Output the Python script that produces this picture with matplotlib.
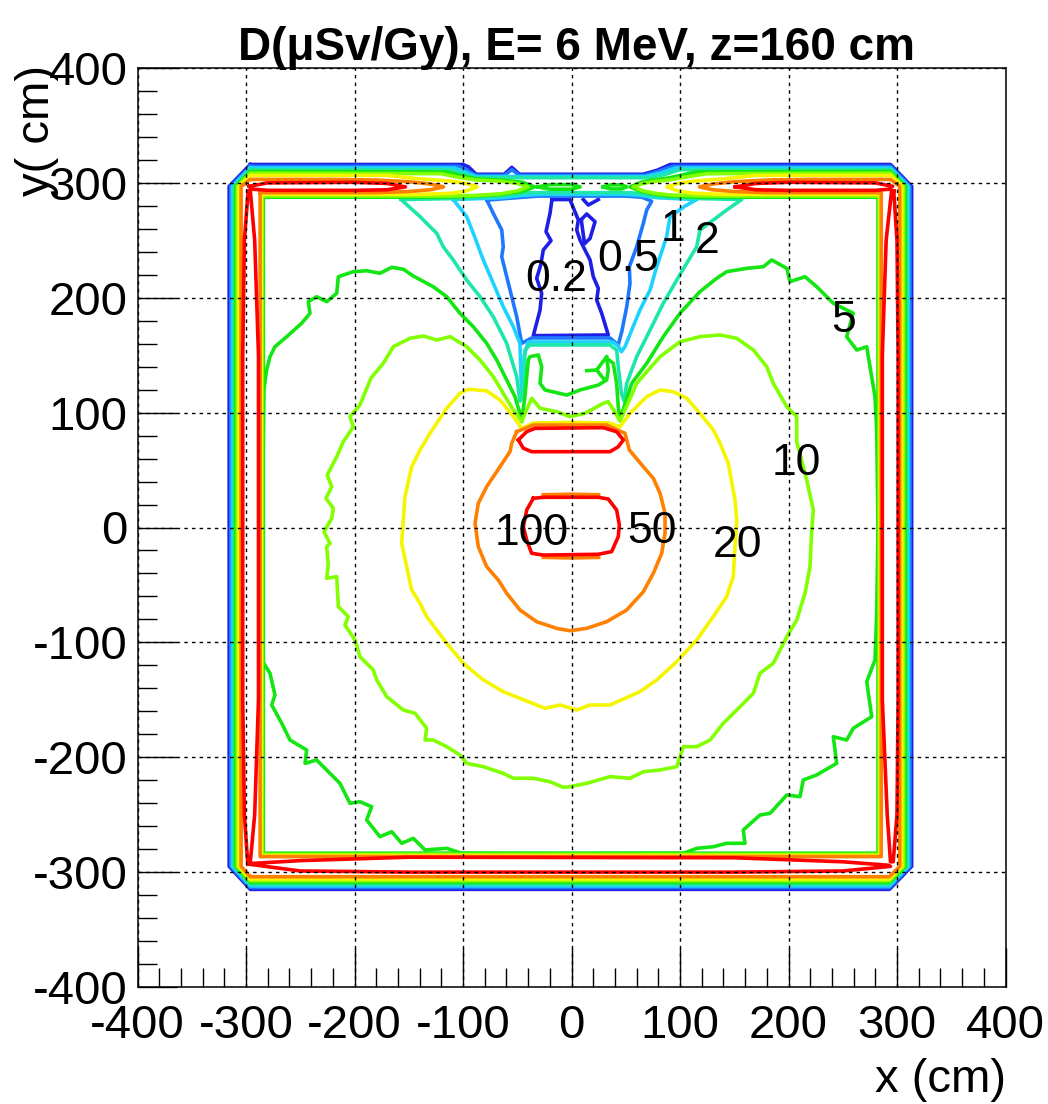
import matplotlib
matplotlib.use("Agg")
import matplotlib.pyplot as plt
from matplotlib.ticker import MultipleLocator

plt.rcParams['font.family'] = ['Liberation Sans', 'DejaVu Sans']
plt.rcParams['axes.unicode_minus'] = False

# contour levels (uSv/Gy) and the ROOT rainbow colours used for them
levels = [0.2, 0.5, 1, 2, 5, 10, 20, 50, 100]
colors = ['#1e1ee6', '#1e78ff', '#1ed2ff', '#1ee6aa', '#14e614', '#82ff00', '#f5f500', '#ff8000', '#ff0000']
label_text = ['0.2', '0.5', '1', '2', '5', '10', '20', '50', '100']
label_x = [-14.5, 52.4, 93.8, 124.6, 250.5, 207.6, 153, 73.9, -36.7]
label_y = [206, 223.3, 249.4, 239.2, 170.4, 45.6, -25.5, -13.9, -15.4]

# ---- contours inside the room (x, y in cm) ----
c02_loop = [(-18, 285.5), (-19.8, 273.5), (-23.5, 257.5), (-18.9, 249.7), (-26, 241.6), (-28.4, 228.5),
            (-32.1, 216.9), (-27.5, 203.9), (-29, 189.3), (-35.2, 167), (33.9, 167.6), (27.8, 186.5),
            (23.2, 198), (24.7, 208.2), (20.1, 218.3), (17.1, 232.9), (12.4, 241.6), (7.8, 250.3),
            (4.8, 259), (6.3, 267.7), (-1.4, 285.5), (-18, 285.5)]
c02_islet = [(9, 268), (14, 272.9), (21.7, 266.2), (17.1, 251.7), (12, 247), (9, 268)]
c02_notch = [(10.9, 285.5), (15.5, 280.7), (24.7, 285.5)]

c05_loop = [(-78, 285), (-72.1, 273.5), (-64.3, 259), (-62.9, 244.4), (-64.3, 235.7), (-59.7, 218.3),
            (-55.1, 200.9), (-50.5, 183.5), (-45.9, 160.3), (-36.7, 165), (35.5, 165), (43.1, 158.9),
            (46.3, 170.4), (50.9, 192.2), (53.9, 212.6), (53.3, 227), (60.1, 244.4), (66.2, 264.8),
            (69.3, 276.4), (73.9, 284), (65, 287.5), (50, 288.5), (-30, 288.5), (-45, 287.5), (-78, 285)]

c1_loop = [(-109, 285.5), (-96.6, 270.6), (-90.5, 256.1), (-81.3, 232.9), (-72.1, 212.6), (-62.9, 192.2),
           (-53.6, 174.8), (-47.5, 160.3), (-46.5, 130), (-46, 112), (-44, 116), (-43.5, 150), (-40, 161.5),
           (38, 161.5), (43, 158), (46, 153), (49.3, 157.4), (55.5, 171.9), (63.1, 189.3), (72.4, 206.7),
           (78.5, 227), (87.7, 253.2), (90.8, 270.6), (105, 280), (115.4, 285.5), (80, 287), (64, 289),
           (50, 290), (-30, 290), (-45, 289), (-65, 287), (-109, 285.5)]

c2_loop = [(-157, 285.5), (-139.6, 270.6), (-124.2, 256.1), (-118.2, 244.4), (-109, 232.9), (-96.6, 215.4),
           (-84.3, 200.9), (-72.1, 183.5), (-59.7, 160.3), (-50.5, 131.3), (-47.5, 110), (-45, 114),
           (-43.5, 135), (-42.9, 154.5), (-38.3, 158.9), (35.5, 158.9), (41.6, 154.5), (43.1, 140),
           (46, 117), (48.5, 110), (50.9, 125.5), (60.1, 148.7), (72.4, 171.9), (84.6, 195.2), (97, 215.4),
           (106.2, 230), (115.4, 244.4), (118.4, 259), (130.7, 267.7), (143, 276.4), (156.9, 285.5),
           (110, 286.5), (80, 288), (64, 290.5), (54, 291.5), (-34, 291.5), (-45, 291), (-65, 288.5),
           (-100, 286.5), (-157, 285.5)]

c5_loop = [(-45.9, 94), (-52.1, 113.9), (-59.7, 128.4), (-68.9, 145.8), (-78.2, 160.3), (-90.5, 174.8),
           (-102.8, 186.5), (-115, 200.9), (-127.4, 209.6), (-145.8, 218.9), (-155, 224.8), (-165.7, 226.5),
           (-176.5, 221.3), (-188.8, 223.5), (-201.1, 222.7), (-214.9, 218.3), (-216.4, 203.9),
           (-225.6, 196.6), (-234.9, 200.9), (-242.6, 196.6), (-241, 186.5), (-248.7, 177.8),
           (-262.5, 166.1), (-273.3, 157.4), (-277.9, 148.7), (-281, 137.1), (-283.5, 120), (-284, 82),
           (-285, 0), (-285.5, -115.3), (-277.9, -126.9), (-273.3, -145.8), (-276.3, -154.5),
           (-267.1, -170.4), (-259.5, -185), (-244.1, -193.7), (-245.6, -205.3), (-234.9, -202.4),
           (-222.6, -214), (-213.4, -222.7), (-204.2, -240.1), (-195, -238.7), (-184.2, -243),
           (-188.8, -254.6), (-176.5, -269.2), (-165.7, -264.8), (-156.5, -274.9), (-145.8, -270.6),
           (-135, -280.7), (-115, -279.3), (-101.2, -283.6), (0, -284), (103, -283.6), (115.4, -279.3),
           (130.7, -277.9), (143, -274.9), (159.9, -274.9), (158.3, -263.3), (173.7, -250.3),
           (183, -248.8), (198.4, -232.9), (210.6, -234.3), (213.6, -219.8), (226, -215.4),
           (244.4, -205.3), (241.3, -182.1), (253.6, -185), (259.7, -174.8), (276.7, -164.7),
           (272.1, -134.2), (279.7, -115.3), (281.3, -74.7), (282.5, 0), (281.3, 84.9), (279.7, 113.9),
           (275.1, 140), (272.1, 157.4), (262.9, 154.5), (253.6, 166.1), (259.7, 186.5), (241.3, 195.2),
           (226, 209.6), (215.2, 218.3), (201.4, 214), (198.4, 225.6), (184.5, 232.9), (176.8, 227),
           (161.5, 225.6), (143, 222.7), (133.8, 216.9), (118.4, 205.3), (100, 186.5), (84.6, 166.1),
           (69.3, 142.9), (55.5, 125.5), (44.7, 94), (43.1, 105.2), (41.6, 125.5), (38.5, 142.9),
           (32.4, 147.3), (33.9, 137.1), (32.4, 128.4), (24.7, 124), (7.8, 119.7), (-4.4, 115.3),
           (-24.4, 119.7), (-29, 125.5), (-27.5, 140), (-30.6, 150.2), (-38.3, 148.7), (-39.8, 145.8),
           (-41.3, 131.3), (-42.9, 113.9), (-45.9, 94)]
c5_spur = [(14, 136.5), (23.2, 137.1), (32.4, 148.7)]
c5_spur2 = [(23.2, 137.1), (29.3, 129.9)]
c5_dash_left = [(-31, 296.5), (-20, 298.5), (0, 298.5), (8, 296.5), (0, 294.5), (-20, 294.5), (-31, 296.5)]
c5_dash_right = [(29, 296.5), (36, 298.3), (46, 298.3), (51, 296.5), (46, 294.7), (36, 294.7), (29, 296.5)]

c10_loop = [(-45.9, 92.5), (-53.6, 102.3), (-62.9, 116.8), (-72.1, 131.3), (-84.3, 145.8), (-96.6, 157.4),
            (-112, 166.1), (-124.2, 163.2), (-136.6, 166.7), (-148.9, 164.7), (-164.2, 157.4),
            (-173.5, 142.9), (-184.8, 130.1), (-195, 106.6), (-204.2, 96.5), (-201.1, 87.7),
            (-210.3, 74.7), (-216.4, 61.6), (-225.1, 45.7), (-221, 35.5), (-226.3, 25.4), (-219.5, 16.7),
            (-221, 8), (-228.1, -3.7), (-222.6, -13.8), (-225.6, -16.7), (-224.2, -32.6), (-225.6, -44.2),
            (-216.4, -42.8), (-214.9, -68.9), (-205.7, -77.6), (-208.8, -84.9), (-199.5, -97.9),
            (-195, -112.5), (-182.7, -124), (-179.5, -132.7), (-170.3, -147.3), (-155, -158.9),
            (-144.2, -161.7), (-133.5, -174.8), (-135, -185), (-127.4, -185), (-115, -190.8),
            (-102.8, -198), (-96.6, -205.3), (-81.3, -208.2), (-72.1, -211.1), (-62.9, -214),
            (-53.6, -218.3), (-35.2, -218.3), (-19.8, -221.3), (-7.6, -226.2), (-1.4, -225.6),
            (14, -222.7), (35.5, -216.9), (53.9, -218.3), (66.2, -212.6), (81.6, -211.1), (97, -208.2),
            (103, -190.8), (115.4, -190.8), (127.7, -185), (139.9, -170.4), (152.3, -158.9),
            (167.6, -144.3), (173.7, -126.9), (186, -118.2), (198.4, -95.1), (207.6, -80.5),
            (215.2, -57.3), (219.8, -34.1), (221.4, -2.2), (222.9, 15.2), (216.8, 41.3), (207.6, 74.7),
            (207.6, 96.5), (198.4, 105.2), (186, 125.5), (179.9, 140), (167.6, 154.5), (152.3, 164.7),
            (136.9, 167.6), (118.4, 166.1), (100, 161.7), (81.6, 148.7), (60.1, 125.5), (44.7, 92.5),
            (41.6, 97.9), (33.9, 109.5), (29.3, 108.1), (12.4, 99.4), (-1.4, 96.5), (-13.6, 100.8),
            (-29, 103.8), (-36.7, 112.5), (-45.9, 92.5)]

c20_loop = [(-45.9, 86.3), (-53.6, 96.5), (-65.9, 111), (-78.2, 119), (-95.1, 120.3), (-102.8, 116.8),
            (-115, 103.8), (-130.4, 82), (-139.6, 67.5), (-147.3, 52.9), (-153.5, 26.8), (-156.5, -13.8),
            (-151.9, -34.1), (-147.3, -54.4), (-139.6, -66), (-133.5, -77.6), (-115, -100.8),
            (-99.7, -118.2), (-81.3, -132.7), (-62.9, -142.9), (-47.5, -148.7), (-24.4, -157.4),
            (-10.6, -154.5), (4.8, -158.9), (17.1, -154.5), (35.5, -154.5), (63.1, -142.9), (78.5, -132.7),
            (97, -116.8), (115.4, -97.9), (130.7, -77.6), (143, -60.2), (149.1, -42.8), (150.7, -16.7),
            (152.3, 6.5), (150.7, 23.9), (144.5, 55.9), (136.9, 73.3), (130.7, 84.9), (118.4, 99.4),
            (106.2, 112.5), (93.8, 118.2), (81.6, 119.7), (69.3, 113.9), (53.9, 99.4), (44.7, 87.7),
            (35, 91), (0, 91.5), (-35, 91), (-45.9, 86.3)]

c50_loop = [(-50.5, 83.4), (-35.2, 89.2), (32.4, 89.2), (49.3, 82), (53.3, 67.5), (58.5, 61.6), (66.2, 52.9),
            (75.4, 42.8), (81.6, 29.8), (86.2, 12.4), (86.2, -5), (83.1, -22.5), (75.4, -39.9),
            (66.2, -55.9), (50.9, -71.8), (32.4, -82), (14, -87.8), (-1.4, -89.9), (-13.6, -87.8),
            (-32.1, -82), (-47.5, -71.8), (-59.7, -57.3), (-67.5, -45.7), (-78.2, -34.1), (-85.9, -16.7),
            (-88.9, 3.7), (-85.9, 21.1), (-78.2, 35.5), (-65.9, 52.9), (-56.7, 66), (-55.1, 73.3),
            (-50.5, 83.4)]
c50_arc_top = [(-26, 28.5), (0, 29), (25, 28.5)]
c50_arc_bottom = [(-26, -26), (0, -26.5), (25, -26)]

c100_core = [(-35.2, 25.4), (-26, 26.3), (24.7, 26.3), (33.9, 24.8), (41.6, 15.2), (44.1, 2.2), (43.1, -8),
             (37, -21), (24.7, -23.3), (-26, -24), (-36.7, -22.5), (-41.3, -10.9), (-44.4, 0.7),
             (-41.3, 15.2), (-35.2, 25.4)]
c100_upper = [(-49, 76.2), (-41.3, 83.4), (-33.6, 86.3), (29.3, 86.9), (41.6, 83.4), (47.8, 76.2),
              (43.1, 70.3), (35.5, 66), (-36.7, 66), (-44.4, 69), (-49, 76.2)]

# ---- the concrete walls: ridge of dose at |x|, |y| ~ 300 cm ----
wall100_left = [(-298, 293), (-301.5, 250), (-303, 150), (-303, -150), (-301.5, -250), (-298.5, -291),
                (-296, -291), (-292, -250), (-288.5, -150), (-288.5, 150), (-292, 250), (-296, 293), (-298, 293)]
wall100_right = [(297, 293), (300, 250), (301, 150), (301, -150), (300, -250), (296.5, -291),
                 (294, -291), (291, -250), (286.5, -150), (286.5, 150), (290, 250), (295, 293), (297, 293)]
wall100_bottom = [(-298, -293), (-250, -299), (-150, -300), (150, -300), (250, -299), (294, -295),
                  (292, -294), (250, -291), (150, -287.5), (-150, -287), (-250, -290), (-296, -292.5), (-298, -293)]
wall100_top_left = [(-297, 297), (-280, 300), (-200, 300.5), (-170, 299.5), (-153, 296.5), (-170, 294),
                    (-200, 293.5), (-280, 293.5), (-294, 294.5), (-297, 297)]
wall100_top_right = [(151, 296.5), (170, 299.5), (200, 300.5), (280, 300), (296, 297), (293, 294.5),
                     (280, 293.5), (200, 293.5), (170, 294), (151, 296.5)]

# outer edge of the wall band for each level (left, right, bottom, top)
ring_levels = [0.2, 0.5, 1, 2, 5, 10, 20, 50]
ring_left = [-315.5, -314, -312.5, -311, -309.5, -308, -306.5, -304.5]
ring_right = [313.5, 312, 310.5, 309, 307.5, 306, 304.5, 302.5]
ring_bottom = [-315, -313.5, -312, -310.5, -309, -307.5, -306, -304]
ring_top = [316, 314.5, 313, 311.5, 310, 308.5, 306.5, 303]

# low levels dip over the middle of the top wall
top_02 = [(-100, 316), (-95, 314), (-88, 307.5), (-62, 307.5), (-55, 313.5), (-48, 307.5), (66, 307.5),
          (79, 311), (91, 316)]
top_05 = [(-104, 314.5), (-96, 311), (-88, 306.5), (-62, 306.5), (-55, 311.5), (-48, 306.5), (67, 306.5),
          (80, 310), (93, 314.5)]
top_1 = [(-108, 313), (-98, 309.5), (-88, 305.5), (-50, 305.5), (68, 305.5), (82, 308.5), (96, 313)]
top_2 = [(-112, 311.5), (-100, 308), (-88, 304.5), (-50, 304.5), (70, 304.5), (85, 307), (100, 311.5)]

# higher levels open up into a horseshoe with tips on the top wall
shoe_levels = [5, 10, 20, 50]
shoe_in_left = [-284, -285, -286, -287]
shoe_in_right = [282.5, 283.5, 284.5, 285.5]
shoe_in_bottom = [-283.5, -284.5, -285.5, -286.5]
shoe_in_top = [287.5, 288.5, 290, 291.5]
tip5 = ([(-34, 296.5), (-45, 300.5), (-65, 302.5), (-88, 303.5), (-100, 306), (-115, 309.5)],
        [(-45, 292.5), (-65, 290), (-90, 288.5), (-120, 287.5)],
        [(54, 296.5), (64, 300.5), (75, 302.5), (88, 304), (100, 306.5), (115, 309.5)],
        [(64, 292.5), (75, 290.5), (90, 288.5), (120, 287.5)])
tip10 = ([(-40, 296.5), (-50, 299.5), (-65, 301.5), (-88, 302.5), (-105, 305), (-120, 308)],
         [(-50, 293), (-65, 290.5), (-90, 289), (-120, 288.5)],
         [(57, 296.5), (66, 299.5), (78, 301.5), (90, 302.5), (105, 305), (125, 308)],
         [(66, 293), (78, 290.8), (90, 289.5), (125, 288.5)])
tip20 = ([(-87, 296.5), (-97, 299.5), (-110, 301.5), (-140, 303.5), (-170, 306.5)],
         [(-97, 293), (-110, 291), (-140, 290)],
         [(88, 296.5), (98, 299.5), (112, 301.5), (140, 303.5), (170, 306.5)],
         [(98, 293), (112, 291), (140, 290)])
tip50 = ([(-118, 296.5), (-130, 299), (-150, 301), (-180, 302.5), (-220, 303)],
         [(-130, 294), (-150, 292.5), (-180, 291.5)],
         [(118, 296.5), (130, 299), (150, 301), (180, 302.5), (220, 303)],
         [(130, 294), (150, 292.5), (180, 291.5)])

corner_tl, corner_tr, corner_bl, corner_br = (-296, 297), (294, 297), (-296, -295), (293, -295)


def ring(l, r, b, t, top):
    return ([(corner_tl[0], t)] + top +
            [(corner_tr[0], t), (r, corner_tr[1]), (r, corner_br[1]), (corner_br[0], b),
             (corner_bl[0], b), (l, corner_bl[1]), (l, corner_tl[1]), (corner_tl[0], t)])


def horseshoe(l, r, b, t, il, ir, ib, it, tips):
    lo, li, ro, ri = tips
    return ([(il, it)] + li[::-1] + lo +
            [(corner_tl[0], t), (l, corner_tl[1]), (l, corner_bl[1]), (corner_bl[0], b),
             (corner_br[0], b), (r, corner_br[1]), (r, corner_tr[1]), (corner_tr[0], t)] +
            ro[::-1] + ri + [(ir, it), (ir, ib), (il, ib), (il, it)])


lines = {lvl: [] for lvl in levels}
for i, (lvl, top) in enumerate(zip(ring_levels[:4], [top_02, top_05, top_1, top_2])):
    lines[lvl].append(ring(ring_left[i], ring_right[i], ring_bottom[i], ring_top[i], top))
for j, (lvl, tips) in enumerate(zip(shoe_levels, [tip5, tip10, tip20, tip50])):
    i = ring_levels.index(lvl)
    lines[lvl].append(horseshoe(ring_left[i], ring_right[i], ring_bottom[i], ring_top[i],
                                shoe_in_left[j], shoe_in_right[j], shoe_in_bottom[j], shoe_in_top[j], tips))

lines[0.2] += [c02_loop, c02_islet, c02_notch]
lines[0.5] += [c05_loop]
lines[1] += [c1_loop]
lines[2] += [c2_loop]
lines[5] += [c5_loop, c5_spur, c5_spur2, c5_dash_left, c5_dash_right]
lines[10] += [c10_loop]
lines[20] += [c20_loop]
lines[50] += [c50_loop, c50_arc_top, c50_arc_bottom]
lines[100] += [c100_core, c100_upper, wall100_left, wall100_right, wall100_bottom,
               wall100_top_left, wall100_top_right]

fig = plt.figure(figsize=(10.48, 11.04), dpi=100)
ax = fig.add_axes([137.5 / 1048, 117 / 1104, 868 / 1048, 919 / 1104])

for lvl, col in zip(levels, colors):
    for pts in lines[lvl]:
        xs, ys = zip(*pts)
        ax.plot(xs, ys, color=col, lw=2.6)

for txt, x, y in zip(label_text, label_x, label_y):
    ax.text(x, y, txt, fontsize=32, ha='center', va='baseline', zorder=5)

ax.set_xlim(-400, 400)
ax.set_ylim(-400, 400)
ax.xaxis.set_major_locator(MultipleLocator(100))
ax.yaxis.set_major_locator(MultipleLocator(100))
ax.xaxis.set_minor_locator(MultipleLocator(20))
ax.yaxis.set_minor_locator(MultipleLocator(20))
ax.set_axisbelow(False)
ax.grid(True, which='major', color='black', linestyle=(0, (2.5, 3)), linewidth=1.0)
ax.tick_params(which='both', direction='in', top=False, right=False, width=1.0, labelsize=34)
ax.tick_params(which='major', length=28)
ax.tick_params(which='minor', length=14)
ax.tick_params(axis='x', pad=12)
ax.tick_params(axis='y', pad=7)
for sp in ax.spines.values():
    sp.set_linewidth(1.1)

fig.text(577 / 1048, 1 - 60 / 1104, 'D(μSv/Gy), E= 6 MeV, z=160 cm', fontsize=33,
         fontweight='bold', ha='center', va='baseline')
fig.text(1006 / 1048, 1 - 1092 / 1104, 'x (cm)', fontsize=34, ha='right', va='baseline')
fig.text(37 / 1048, 1 - 65 / 1104, 'y( cm)', fontsize=34, rotation=90, ha='center', va='top')

fig.savefig('out.png', dpi=100)
